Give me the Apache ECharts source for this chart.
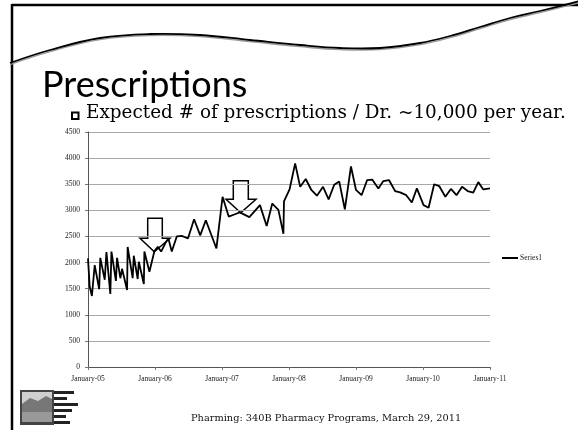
<!DOCTYPE html>
<html><head><meta charset="utf-8">
<script src="https://cdn.jsdelivr.net/npm/echarts@6/dist/echarts.min.js"></script>
<style>html,body{margin:0;padding:0;background:#fff}#c{width:578px;height:430px}</style>
</head><body><div id="c"></div>
<script>
// months since January 2005
const months = [0,0.3,0.7,1.2,2.0,2.2,3.0,3.3,4.0,4.2,5.0,5.2,5.8,6.1,7.0,7.1,8.0,8.2,8.9,9.1,10.0,10.1,11.0,11.9,12.5,13.1,14.0,14.4,15.0,15.9,16.8,17.9,19.0,20.1,21.1,23.0,24.1,25.2,26.2,27.2,28.9,30.8,32.0,33.0,34.1,35.0,35.1,36.1,37.1,38.0,39.0,40.0,41.0,42.1,43.1,44.1,45.0,46.0,47.1,48.0,49.0,50.0,50.9,52.0,52.9,53.9,55.0,55.9,57.0,58.0,58.9,60.1,61.0,62.0,62.9,64.0,65.0,66.0,67.0,68.0,69.0,69.9,70.8,72.0];
const series1 = [2080,1540,1360,1950,1490,2090,1670,2200,1400,2210,1650,2090,1700,1880,1475,2300,1700,2130,1685,2015,1590,2210,1825,2220,2300,2210,2400,2460,2210,2500,2510,2460,2830,2520,2810,2270,3260,2880,2920,2960,2870,3100,2700,3130,3010,2550,3170,3400,3900,3450,3600,3390,3280,3450,3210,3490,3550,3020,3840,3390,3290,3580,3590,3420,3560,3580,3370,3345,3290,3150,3420,3100,3050,3500,3465,3260,3410,3290,3450,3370,3340,3540,3400,3420];
const xTickLabels = ['January-05','January-06','January-07','January-08','January-09','January-10','January-11'];
const seriesName = 'Series1';
const titleText = 'Prescriptions';
const bulletText = 'Expected # of prescriptions / Dr. ~10,000 per year.';
const footerText = 'Pharming: 340B Pharmacy Programs, March 29, 2011';

const chart = echarts.init(document.getElementById('c'));
const serif = '"Liberation Serif", "DejaVu Serif", serif';
const wideSerif = '"DejaVu Serif", serif';
const swoosh = [[10,63],[50,50],[100,38],[150,34],[200,35],[250,40],[300,45],[340,48],[380,48],[420,43],[450,36],[480,27],[510,18],[540,11],[580,1]];
const swoosh2 = swoosh.map(p => [p[0], p[1] + 1.6]);

chart.setOption({
  animation: false,
  backgroundColor: '#fff',
  grid: { left: 88, right: 88, top: 132, bottom: 63 },
  legend: {
    data: [seriesName], left: 502, top: 254, padding: 0,
    icon: 'rect', itemWidth: 16, itemHeight: 2, itemGap: 0,
    textStyle: { fontFamily: serif, fontSize: 7.5, color: '#222', padding: [0,0,0,-3] }
  },
  xAxis: {
    type: 'value', min: 0, max: 72, interval: 12,
    axisLine: { lineStyle: { color: '#555', width: 1 } },
    axisTick: { show: true, length: 3, lineStyle: { color: '#777' } },
    splitLine: { show: false },
    axisLabel: { margin: 8, fontFamily: serif, fontSize: 7.5, color: '#222',
      formatter: v => xTickLabels[Math.round(v / 12)] || '' }
  },
  yAxis: {
    type: 'value', min: 0, max: 4500, interval: 500,
    axisLine: { show: true, lineStyle: { color: '#555', width: 1 } },
    axisTick: { show: true, length: 3, lineStyle: { color: '#777' } },
    splitLine: { lineStyle: { color: '#a8a8a8', width: 1 } },
    axisLabel: { margin: 8, fontFamily: serif, fontSize: 7.5, color: '#222', formatter: v => String(v) }
  },
  series: [{
    name: seriesName, type: 'line', showSymbol: false, symbol: 'none',
    lineStyle: { color: '#000', width: 1.8 }, itemStyle: { color: '#000' },
    data: months.map((m, i) => [m, series1[i]])
  }],
  graphic: [
    { type: 'line', shape: { x1: 12, y1: 5, x2: 578, y2: 5 }, style: { stroke: '#000', lineWidth: 2.5 } },
    { type: 'line', shape: { x1: 12, y1: 4, x2: 12, y2: 430 }, style: { stroke: '#000', lineWidth: 2.5 } },
    { type: 'polyline', shape: { points: swoosh2, smooth: 0.4 }, style: { stroke: '#999', lineWidth: 1.4, fill: null } },
    { type: 'polyline', shape: { points: swoosh, smooth: 0.4 }, style: { stroke: '#000', lineWidth: 1.8, fill: null } },
    { type: 'text', left: 42, top: 67, style: { text: titleText, font: '36px Lato, "Open Sans", sans-serif', fill: '#000' } },
    { type: 'rect', shape: { x: 72, y: 112.5, width: 6.5, height: 6.5 }, style: { fill: '#fff', stroke: '#000', lineWidth: 2 } },
    { type: 'text', left: 86, top: 104.5, style: { text: bulletText, font: '18.4px ' + wideSerif, fill: '#000' } },
    { type: 'text', left: 191, top: 413.5, style: { text: footerText, font: '9.8px ' + wideSerif, fill: '#111' } },
    { type: 'polygon', shape: { points: [[147.7,218.3],[162.3,218.3],[162.3,238.3],[170,238.3],[154.3,251.7],[140,238.3],[147.7,238.3]] }, style: { fill: null, stroke: '#000', lineWidth: 1.5 } },
    { type: 'polygon', shape: { points: [[233.3,180.7],[248.3,180.7],[248.3,199.3],[256,199.3],[240.7,212.7],[226,199.3],[233.3,199.3]] }, style: { fill: null, stroke: '#000', lineWidth: 1.5 } },
    // logo
    { type: 'rect', shape: { x: 20, y: 390, width: 34, height: 35 }, style: { fill: '#444' } },
    { type: 'rect', shape: { x: 22, y: 392, width: 30, height: 14 }, style: { fill: '#cfcfcf' } },
    { type: 'polygon', shape: { points: [[22,404],[30,398],[38,401],[46,396],[52,399],[52,412],[22,412]] }, style: { fill: '#777' } },
    { type: 'rect', shape: { x: 22, y: 412, width: 30, height: 10 }, style: { fill: '#999' } },
    { type: 'rect', shape: { x: 54, y: 391, width: 20, height: 3 }, style: { fill: '#222' } },
    { type: 'rect', shape: { x: 54, y: 397, width: 13, height: 3 }, style: { fill: '#222' } },
    { type: 'rect', shape: { x: 54, y: 403, width: 24, height: 3 }, style: { fill: '#222' } },
    { type: 'rect', shape: { x: 54, y: 409, width: 18, height: 3 }, style: { fill: '#222' } },
    { type: 'rect', shape: { x: 54, y: 415, width: 12, height: 3 }, style: { fill: '#222' } },
    { type: 'rect', shape: { x: 54, y: 421, width: 16, height: 3 }, style: { fill: '#222' } }
  ]
});
</script></body></html>
